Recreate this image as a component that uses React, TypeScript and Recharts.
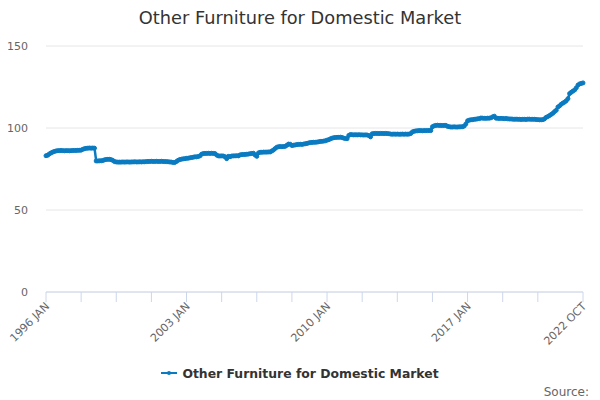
import { LineChart, Line, XAxis, YAxis, CartesianGrid } from "recharts";

const SERIES_NAME = "Other Furniture for Domestic Market";
const START_YEAR = 1996;
const MONTHS = ["JAN", "FEB", "MAR", "APR", "MAY", "JUN", "JUL", "AUG", "SEP", "OCT", "NOV", "DEC"];

// monthly index values, one row per year (1996 JAN .. 2022 OCT)
const VALUES = [
  83.1, 83.4, 84.2, 84.8, 85.3, 85.7, 86.0, 86.2, 86.2, 86.3, 86.2, 86.1,
  86.2, 86.2, 86.1, 86.2, 86.3, 86.3, 86.3, 86.4, 86.4, 86.5, 87.0, 87.4,
  87.6, 87.7, 87.8, 87.7, 87.8, 87.7, 79.9, 79.9, 80.0, 80.0, 80.2, 80.6,
  80.8, 80.9, 80.9, 80.7, 80.2, 79.5, 79.3, 79.2, 79.2, 79.2, 79.3, 79.2,
  79.3, 79.3, 79.2, 79.3, 79.3, 79.4, 79.3, 79.3, 79.4, 79.3, 79.4, 79.4,
  79.5, 79.6, 79.6, 79.7, 79.6, 79.6, 79.7, 79.6, 79.6, 79.7, 79.6, 79.5,
  79.5, 79.4, 79.3, 79.2, 79.0, 79.0, 79.6, 80.3, 80.8, 81.0, 81.2, 81.3,
  81.5, 81.6, 81.8, 82.0, 82.2, 82.4, 82.4, 82.6, 83.0, 84.0, 84.4, 84.5,
  84.5, 84.6, 84.5, 84.6, 84.5, 84.4, 83.5, 83.0, 82.9, 83.0, 82.9, 82.5,
  81.3, 82.7, 82.5, 82.9, 83.0, 83.0, 83.1, 83.0, 83.6, 83.8, 83.8, 83.9,
  84.0, 84.1, 84.3, 84.5, 84.6, 83.5, 82.7, 84.8, 85.2, 85.2, 85.3, 85.3,
  85.3, 85.4, 85.4, 86.0, 86.6, 87.5, 88.3, 88.6, 88.7, 88.6, 88.7, 88.8,
  89.5, 90.2, 90.1, 89.3, 89.5, 89.7, 89.9, 90.0, 90.1, 90.0, 90.2, 90.4,
  90.6, 90.9, 91.1, 91.2, 91.3, 91.3, 91.4, 91.6, 91.8, 91.9, 92.0, 92.2,
  92.6, 92.9, 93.4, 93.8, 94.1, 94.2, 94.3, 94.3, 94.4, 94.2, 93.8, 93.6,
  93.5, 95.5, 96.0, 95.9, 95.8, 95.9, 95.8, 95.9, 95.8, 95.8, 95.7, 95.8,
  95.7, 95.4, 94.6, 96.5, 96.6, 96.7, 96.7, 96.6, 96.7, 96.7, 96.6, 96.7,
  96.6, 96.5, 96.3, 96.2, 96.3, 96.2, 96.3, 96.2, 96.2, 96.3, 96.2, 96.3,
  96.2, 96.3, 96.6, 97.6, 98.0, 98.2, 98.3, 98.4, 98.4, 98.3, 98.4, 98.4,
  98.4, 98.5, 98.4, 100.8, 101.3, 101.6, 101.7, 101.6, 101.6, 101.5, 101.6, 101.6,
  101.0, 100.8, 100.6, 100.6, 100.7, 100.6, 100.6, 100.7, 100.7, 100.8, 101.2, 102.5,
  104.4, 104.8, 105.0, 105.1, 105.3, 105.4, 105.6, 105.7, 106.1, 106.0, 105.9, 105.9,
  106.0, 106.0, 106.2, 106.8, 107.2, 106.0, 105.9, 105.8, 105.9, 105.8, 105.7, 105.8,
  105.6, 105.5, 105.5, 105.4, 105.3, 105.4, 105.3, 105.3, 105.2, 105.3, 105.3, 105.2,
  105.4, 105.4, 105.3, 105.3, 105.3, 105.2, 105.1, 105.0, 105.0, 105.1, 105.6, 106.5,
  107.0, 107.6, 108.3, 109.0, 110.0, 110.8, 112.8, 113.5, 114.5, 115.2, 115.8, 116.6,
  117.9, 121.0, 121.8, 122.5, 123.2, 124.5, 126.2, 126.9, 127.2, 127.5,
];

// tick marks every 21 months, labels every 84 months, plus the last month
const X_TICKS = [0, 21, 42, 63, 84, 105, 126, 147, 168, 189, 210, 231, 252, 273, 294, 321];
const X_LABELED = [0, 84, 168, 252, 321];
const Y_TICKS = [0, 50, 100, 150];

const COLOR = "#0a7bc1";
const FONT = "'DejaVu Sans', sans-serif";

function monthLabel(i: number) {
  return `${START_YEAR + Math.floor(i / 12)} ${MONTHS[i % 12]}`;
}

const data = VALUES.map((value, m) => ({ m, value }));

function XTick(props: any) {
  const { x, y, payload } = props;
  if (!X_LABELED.includes(payload.value)) return null;
  const tx = x + 4;
  const ty = y + 3;
  return (
    <text
      x={tx}
      y={ty}
      transform={`rotate(-45, ${tx}, ${ty})`}
      textAnchor="end"
      fill="#666666"
      fontSize={11}
      fontFamily={FONT}
    >
      {monthLabel(payload.value)}
    </text>
  );
}

export default function App() {
  return (
    <div style={{ position: "relative", width: 600, height: 400, background: "#fff", fontFamily: FONT }}>
      <style>{`body { margin: 0; }`}</style>
      <div
        style={{
          position: "absolute",
          top: 7,
          left: 0,
          width: 600,
          textAlign: "center",
          fontSize: 17.8,
          lineHeight: "22px",
          color: "#333333",
        }}
      >
        {SERIES_NAME}
      </div>
      <LineChart width={600} height={400} data={data} margin={{ top: 46, right: 17, left: 0, bottom: 48 }}>
        <CartesianGrid vertical={false} stroke="#e6e6e6" />
        <XAxis
          type="number"
          dataKey="m"
          domain={[0, VALUES.length - 1]}
          ticks={X_TICKS}
          interval={0}
          height={60}
          tickSize={10}
          tickMargin={2}
          stroke="#ccd6eb"
          tick={<XTick />}
        />
        <YAxis
          domain={[0, 150]}
          ticks={Y_TICKS}
          width={46}
          axisLine={false}
          tickLine={false}
          tickSize={0}
          tickMargin={18}
          tick={{ fill: "#666666", fontSize: 11, fontFamily: FONT }}
        />
        <Line
          type="linear"
          dataKey="value"
          stroke={COLOR}
          strokeWidth={2.5}
          dot={{ r: 2, fill: COLOR, stroke: COLOR, strokeWidth: 1 }}
          isAnimationActive={false}
        />
      </LineChart>
      <div
        style={{
          position: "absolute",
          top: 365,
          left: 0,
          width: 600,
          height: 16,
          display: "flex",
          justifyContent: "center",
          alignItems: "center",
          fontSize: 12.4,
          fontWeight: "bold",
          color: "#333333",
        }}
      >
        <svg width={16} height={10} style={{ marginRight: 5 }}>
          <line x1={0} y1={5} x2={16} y2={5} stroke={COLOR} strokeWidth={2} />
          <circle cx={8} cy={5} r={2} fill={COLOR} />
        </svg>
        <span>{SERIES_NAME}</span>
      </div>
      <div
        style={{
          position: "absolute",
          top: 385,
          right: 11,
          fontSize: 12,
          lineHeight: "15px",
          color: "#666666",
        }}
      >
        Source:
      </div>
    </div>
  );
}
